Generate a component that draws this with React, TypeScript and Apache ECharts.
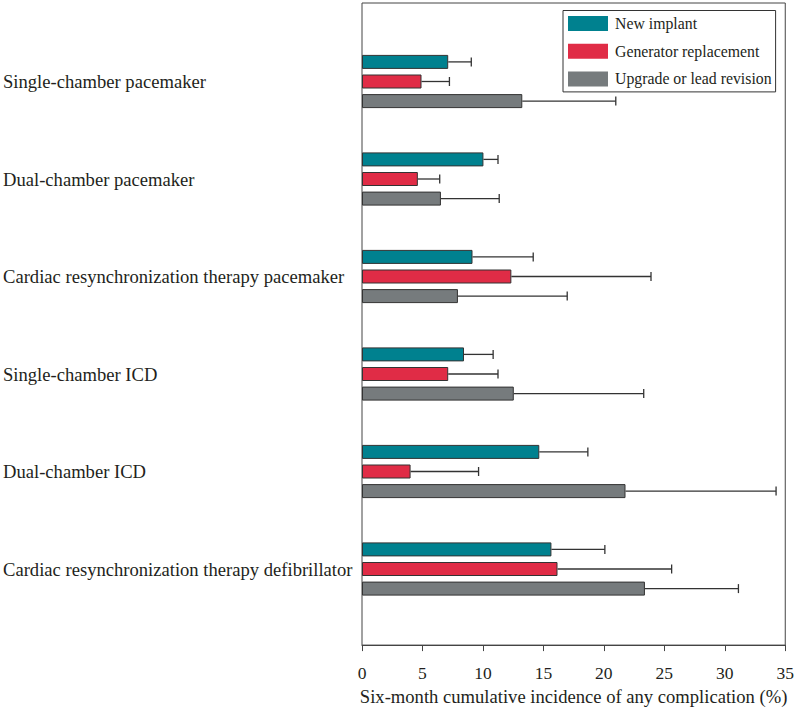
import React, { useEffect, useRef } from "react";
import * as echarts from "echarts";

const categories = [
  "Single-chamber pacemaker",
  "Dual-chamber pacemaker",
  "Cardiac resynchronization therapy pacemaker",
  "Single-chamber ICD",
  "Dual-chamber ICD",
  "Cardiac resynchronization therapy defibrillator",
];
const seriesNames = ["New implant", "Generator replacement", "Upgrade or lead revision"];
const newImplant = [7.1, 10.0, 9.1, 8.4, 14.6, 15.6];
const newImplantUpper = [9.0, 11.2, 14.1, 10.8, 18.6, 20.0];
const generator = [4.9, 4.6, 12.3, 7.1, 4.0, 16.1];
const generatorUpper = [7.2, 6.4, 23.8, 11.2, 9.6, 25.5];
const upgrade = [13.2, 6.5, 7.9, 12.5, 21.7, 23.3];
const upgradeUpper = [20.9, 11.3, 16.9, 23.2, 34.1, 31.0];
const xMin = 0;
const xMax = 35;
const xInterval = 5;
const xTitle = "Six-month cumulative incidence of any complication (%)";

const colors = ["#00818f", "#e02c46", "#767b7d"];
const FONT = '"Liberation Serif", "Times New Roman", serif';
const TEXT = "#231f20";
const BAR_W = 14;
const BAR_GAP = 0.4;

export default function App() {
  const ref = useRef<HTMLDivElement>(null);
  useEffect(() => {
    if (!ref.current) return;
    const chart = echarts.init(ref.current, null, { renderer: "svg" });
    const values = [newImplant, generator, upgrade];
    const uppers = [newImplantUpper, generatorUpper, upgradeUpper];
    const step = BAR_W * (1 + BAR_GAP);

    const barSeries = seriesNames.map((name, s) => ({
      type: "bar",
      name,
      xAxisIndex: 0,
      yAxisIndex: 0,
      data: values[s],
      barWidth: BAR_W,
      barGap: BAR_GAP * 100 + "%",
      itemStyle: { color: colors[s], borderColor: "#333", borderWidth: 1 },
      emphasis: { disabled: true },
    }));

    const errSeries = seriesNames.map((name, s) => ({
      type: "custom",
      name: name + " CI",
      xAxisIndex: 0,
      yAxisIndex: 0,
      data: categories.map((_, i) => [values[s][i], uppers[s][i], i]),
      encode: { x: [0, 1], y: 2 },
      renderItem: (params: any, api: any) => {
        const a = api.coord([api.value(0), api.value(2)]);
        const b = api.coord([api.value(1), api.value(2)]);
        const y = a[1] + (s - 1) * step;
        const st = { stroke: "#333", lineWidth: 1.3 };
        return {
          type: "group",
          children: [
            { type: "line", shape: { x1: a[0], y1: y, x2: b[0], y2: y }, style: st },
            { type: "line", shape: { x1: b[0], y1: y - 4.5, x2: b[0], y2: y + 4.5 }, style: st },
          ],
        };
      },
      z: 3,
    }));

    chart.setOption({
      animation: false,
      textStyle: { fontFamily: FONT, color: TEXT },
      legend: {
        data: seriesNames,
        orient: "vertical",
        left: 563,
        top: 10.5,
        padding: [5, 4, 5, 5],
        itemGap: 11.7,
        itemWidth: 40,
        itemHeight: 15,
        borderColor: "#333",
        borderWidth: 1,
        icon: "rect",
        itemStyle: { borderWidth: 0 },
        textStyle: { fontFamily: FONT, fontSize: 15.8, color: TEXT, padding: [0, 0, 0, 2] },
        selectedMode: false,
      },
      grid: [
        { left: 362, top: 32.75, width: 425, height: 585, show: false },
        { left: 362, top: 3, width: 425, height: 645, show: true, borderColor: "#444", borderWidth: 1 },
      ],
      xAxis: [
        { type: "value", gridIndex: 0, min: xMin, max: xMax, show: false },
        {
          type: "value",
          gridIndex: 1,
          min: xMin,
          max: xMax,
          interval: xInterval,
          splitLine: { show: false },
          axisLine: { show: true, lineStyle: { color: "#444", width: 1 } },
          axisTick: { show: true, inside: false, length: 6, lineStyle: { color: "#444" } },
          axisLabel: { fontFamily: FONT, fontSize: 17.5, color: TEXT, margin: 19 },
          name: xTitle,
          nameLocation: "middle",
          nameGap: 41,
          nameTextStyle: { fontFamily: FONT, fontSize: 18.6, color: TEXT },
        },
      ],
      yAxis: [
        {
          type: "category",
          gridIndex: 0,
          data: categories,
          inverse: true,
          axisLine: { show: false },
          axisTick: { show: false },
          splitLine: { show: false },
          axisLabel: {
            fontFamily: FONT,
            fontSize: 18.6,
            color: TEXT,
            align: "left",
            margin: 359,
          },
        },
        { type: "value", gridIndex: 1, show: false, min: 0, max: 1 },
      ],
      series: [...barSeries, ...errSeries],
    });
    return () => chart.dispose();
  }, []);
  return (
    <div
      ref={ref}
      style={{ position: "absolute", left: 0, top: 0, width: 797, height: 711, background: "#fff" }}
    />
  );
}
